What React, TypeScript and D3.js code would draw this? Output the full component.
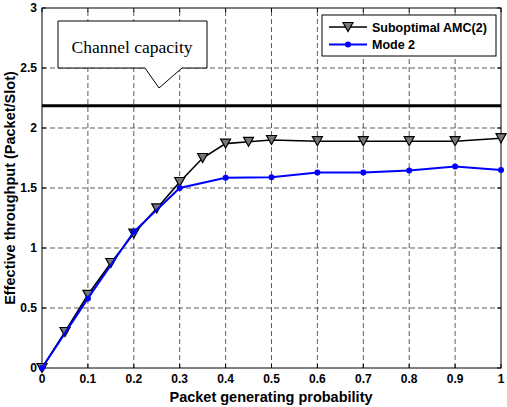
import React from 'react';
import * as d3 from 'd3';

const amcX = [0, 0.05, 0.1, 0.15, 0.2, 0.25, 0.3, 0.35, 0.4, 0.45, 0.5, 0.6, 0.7, 0.8, 0.9, 1];
const amcY = [0, 0.3, 0.61, 0.875, 1.12, 1.33, 1.55, 1.75, 1.87, 1.885, 1.9, 1.89, 1.89, 1.89, 1.89, 1.915];
const modeX = [0, 0.1, 0.2, 0.3, 0.4, 0.5, 0.6, 0.7, 0.8, 0.9, 1];
const modeY = [0, 0.58, 1.135, 1.5, 1.585, 1.59, 1.63, 1.63, 1.645, 1.68, 1.65];
const capacity = 2.185;
const xTicks = [0, 0.1, 0.2, 0.3, 0.4, 0.5, 0.6, 0.7, 0.8, 0.9, 1];
const yTicks = [0, 0.5, 1, 1.5, 2, 2.5, 3];

const W = 507;
const H = 407;
const M = { left: 42, right: 6, top: 8, bottom: 39 };
const FONT = '"Liberation Sans", Arial, sans-serif';

const tri = (cx: number, cy: number) =>
  `M${cx - 5},${cy - 4.5}L${cx + 5},${cy - 4.5}L${cx},${cy + 4.5}Z`;

const App: React.FC = () => {
  const x = d3.scaleLinear().domain([0, 1]).range([M.left, W - M.right]);
  const y = d3.scaleLinear().domain([0, 3]).range([H - M.bottom, M.top]);
  const line = d3.line<[number, number]>().x(d => x(d[0])).y(d => y(d[1]));
  const amc = amcX.map((v, i) => [v, amcY[i]] as [number, number]);
  const mode = modeX.map((v, i) => [v, modeY[i]] as [number, number]);
  const x0 = x(0), x1 = x(1), y0 = y(0), y1 = y(3);

  return (
    <svg width={W} height={H} style={{ position: 'absolute', left: 0, top: 0, background: '#fff' }}>
      {/* grid */}
      {xTicks.slice(1, -1).map(t => (
        <line key={'gx' + t} x1={x(t)} x2={x(t)} y1={y0} y2={y1} stroke="#333" strokeDasharray="5,3" strokeWidth={0.8} />
      ))}
      {yTicks.slice(1, -1).map(t => (
        <line key={'gy' + t} x1={x0} x2={x1} y1={y(t)} y2={y(t)} stroke="#333" strokeDasharray="5,3" strokeWidth={0.8} />
      ))}
      <rect x={x0} y={y1} width={x1 - x0} height={y0 - y1} fill="none" stroke="#000" strokeWidth={1} />
      {/* ticks */}
      {xTicks.map(t => (
        <g key={'tx' + t}>
          <line x1={x(t)} x2={x(t)} y1={y0} y2={y0 - 4} stroke="#000" />
          <line x1={x(t)} x2={x(t)} y1={y1} y2={y1 + 4} stroke="#000" />
          <text x={x(t)} y={y0 + 15} textAnchor="middle" fontFamily={FONT} fontWeight="bold" fontSize={12}>{t}</text>
        </g>
      ))}
      {yTicks.map(t => (
        <g key={'ty' + t}>
          <line x1={x0} x2={x0 + 4} y1={y(t)} y2={y(t)} stroke="#000" />
          <line x1={x1} x2={x1 - 4} y1={y(t)} y2={y(t)} stroke="#000" />
          <text x={x0 - 5} y={y(t) + 4} textAnchor="end" fontFamily={FONT} fontWeight="bold" fontSize={12}>{t}</text>
        </g>
      ))}
      {/* capacity line */}
      <line x1={x0} x2={x1} y1={y(capacity)} y2={y(capacity)} stroke="#000" strokeWidth={3} />
      {/* series */}
      <path d={line(amc) || ''} fill="none" stroke="#000" strokeWidth={1.6} />
      {amc.map((d, i) => (
        <path key={'a' + i} d={tri(x(d[0]), y(d[1]))} fill="#777" stroke="#000" strokeWidth={1.2} />
      ))}
      <path d={line(mode) || ''} fill="none" stroke="#0000ff" strokeWidth={2} />
      {mode.map((d, i) => (
        <circle key={'m' + i} cx={x(d[0])} cy={y(d[1])} r={3} fill="#0000ff" />
      ))}
      {/* callout */}
      <path
        d="M58,21L207,21L207,68L182,68L159,88L145,68L58,68Z"
        fill="#fff" stroke="#000" strokeWidth={1}
      />
      <text x={132} y={53} textAnchor="middle" fontFamily='"Liberation Serif", "Times New Roman", serif' fontSize={17.5}>Channel capacity</text>
      {/* legend */}
      <rect x={322} y={15} width={174} height={41} fill="#fff" stroke="#000" strokeWidth={1} />
      <line x1={329} x2={367} y1={27} y2={27} stroke="#000" strokeWidth={1.6} />
      <path d={tri(348, 27)} fill="#777" stroke="#000" strokeWidth={1.2} />
      <text x={372} y={31.5} fontFamily={FONT} fontWeight="bold" fontSize={12.5}>Suboptimal AMC(2)</text>
      <line x1={329} x2={367} y1={44.5} y2={44.5} stroke="#0000ff" strokeWidth={2} />
      <circle cx={348} cy={44.5} r={3} fill="#0000ff" />
      <text x={372} y={49} fontFamily={FONT} fontWeight="bold" fontSize={12.5}>Mode 2</text>
      {/* axis titles */}
      <text x={271} y={402} textAnchor="middle" fontFamily={FONT} fontWeight="bold" fontSize={14.5}>Packet generating probability</text>
      <text transform={`translate(15,${(y0 + y1) / 2}) rotate(-90)`} textAnchor="middle" fontFamily={FONT} fontWeight="bold" fontSize={14.5}>Effective throughput (Packet/Slot)</text>
    </svg>
  );
};

export default App;
